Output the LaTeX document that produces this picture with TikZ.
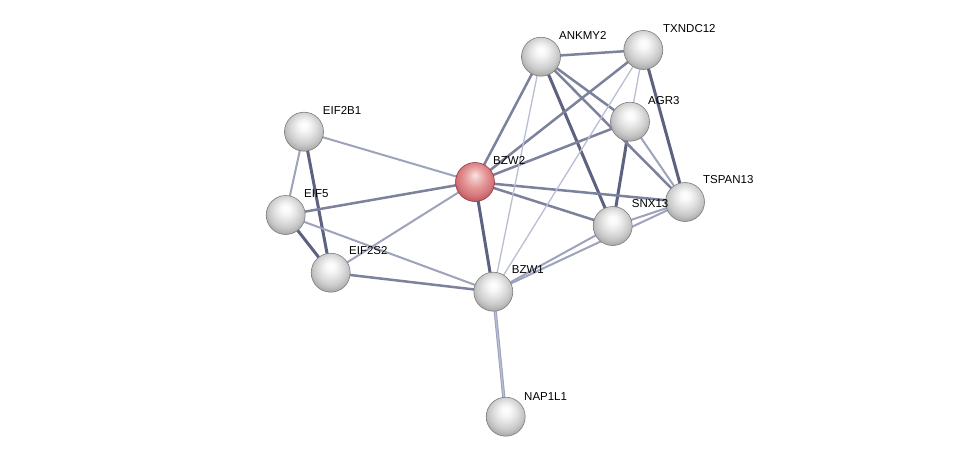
\documentclass[tikz,border=0pt]{standalone}
\usepackage{fontspec}
\setmainfont{Liberation Sans}
\pgfdeclarelayer{bg}
\pgfdeclarelayer{edges}
\pgfsetlayers{bg,edges,main}
\definecolor{edark}{RGB}{92,98,128}
\definecolor{emed}{RGB}{124,130,156}
\definecolor{elight}{RGB}{158,163,188}
\definecolor{efaint}{RGB}{186,190,212}
\definecolor{gA}{RGB}{255,255,255}
\definecolor{gB}{RGB}{248,248,248}
\definecolor{gC}{RGB}{226,226,226}
\definecolor{gD}{RGB}{200,200,200}
\definecolor{gE}{RGB}{165,165,165}
\definecolor{gF}{RGB}{125,125,125}
\definecolor{rA}{RGB}{250,228,228}
\definecolor{rB}{RGB}{240,192,192}
\definecolor{rC}{RGB}{228,150,152}
\definecolor{rD}{RGB}{214,120,124}
\definecolor{rE}{RGB}{188,88,92}
\definecolor{rF}{RGB}{150,55,60}
\pgfdeclareradialshading{greyball}{\pgfpoint{0bp}{9bp}}{color(0bp)=(gA); color(6bp)=(gB); color(14bp)=(gC); color(22bp)=(gD); color(29bp)=(gE); color(34bp)=(gF); color(50bp)=(gF)}
\pgfdeclareradialshading{redball}{\pgfpoint{0bp}{9bp}}{color(0bp)=(rA); color(6bp)=(rB); color(14bp)=(rC); color(22bp)=(rD); color(29bp)=(rE); color(34bp)=(rF); color(50bp)=(rF)}
\tikzset{
  prot/.style={circle, minimum size=39pt, inner sep=0pt, shading=greyball, draw=gF, line width=0.6pt},
  query/.style={prot, shading=redball, draw=rF},
  lbl/.style={anchor=west, inner sep=0pt, font=\fontsize{11.5}{13}\selectfont, text=black},
  edark/.style={draw=edark, line width=3pt},
  emed/.style={draw=emed, line width=2.5pt},
  elight/.style={draw=elight, line width=2pt},
  efaint/.style={draw=efaint, line width=1.3pt},
  edouble/.style={draw=elight, line width=1pt, double=efaint, double distance=1.2pt}
}
\begin{document}
\begin{tikzpicture}[x=1pt, y=-1pt]
\begin{pgfonlayer}{bg}
\fill[white] (0,0) rectangle (975,464);
\end{pgfonlayer}
\useasboundingbox (0,0) rectangle (975,464);
% nodes
\node[prot] (ANK) at (541,56.7) {};
\node[prot] (TXN) at (643.3,50) {};
\node[prot] (AGR) at (630,121.7) {};
\node[query] (BZW2) at (475,182) {};
\node[prot] (TSP) at (685,202) {};
\node[prot] (SNX) at (612.7,226) {};
\node[prot] (BZW1) at (493.3,291.7) {};
\node[prot] (NAP) at (505.7,416.7) {};
\node[prot] (EB1) at (304,131.7) {};
\node[prot] (EIF5) at (285.7,215) {};
\node[prot] (ES2) at (330.7,272.7) {};
% edges
\begin{pgfonlayer}{edges}
\draw[edark] (EB1.center) -- (ES2.center);
\draw[edark] (EIF5.center) -- (ES2.center);
\draw[edark] (ANK.center) -- (SNX.center);
\draw[edark] (AGR.center) -- (SNX.center);
\draw[edark] (BZW2.center) -- (BZW1.center);
\draw[edark] (TXN.center) -- (TSP.center);
\draw[emed] (ANK.center) -- (TXN.center);
\draw[emed] (ANK.center) -- (BZW2.center);
\draw[emed] (ANK.center) -- (AGR.center);
\draw[emed] (ANK.center) -- (TSP.center);
\draw[emed] (TXN.center) -- (BZW2.center);
\draw[emed] (AGR.center) -- (BZW2.center);
\draw[emed] (BZW2.center) -- (TSP.center);
\draw[emed] (BZW2.center) -- (SNX.center);
\draw[emed] (BZW2.center) -- (EIF5.center);
\draw[elight] (BZW2.center) -- (EB1.center);
\draw[emed] (ES2.center) -- (BZW1.center);
\draw[elight] (AGR.center) -- (TSP.center);
\draw[elight] (BZW2.center) -- (ES2.center);
\draw[elight] (EIF5.center) -- (BZW1.center);
\draw[elight] (EB1.center) -- (EIF5.center);
\draw[efaint] (TXN.center) -- (AGR.center);
\draw[elight] (SNX.center) -- (TSP.center);
\draw[elight] (SNX.center) -- (BZW1.center);
\draw[elight] (BZW1.center) -- (TSP.center);
\draw[edouble] (BZW1.center) -- (NAP.center);
\draw[efaint] (ANK.center) -- (BZW1.center);
\draw[efaint] (TXN.center) -- (BZW1.center);
\end{pgfonlayer}
% labels
\node[lbl] (lANK) at (559,35.5) {ANKMY2};
\node[lbl] (lTXN) at (663,28.3) {TXNDC12};
\node[lbl] (lAGR) at (648,100.8) {AGR3};
\node[lbl] (lBZW2) at (493,160.8) {BZW2};
\node[lbl] (lTSP) at (703,180) {TSPAN13};
\node[lbl] (lSNX) at (631.7,204) {SNX13};
\node[lbl] (lBZW1) at (511.7,270) {BZW1};
\node[lbl] (lNAP) at (524,396.7) {NAP1L1};
\node[lbl] (lEB1) at (322.7,110) {EIF2B1};
\node[lbl] (lEIF5) at (304,194) {EIF5};
\node[lbl] (lES2) at (349,251) {EIF2S2};
\end{tikzpicture}
\end{document}
